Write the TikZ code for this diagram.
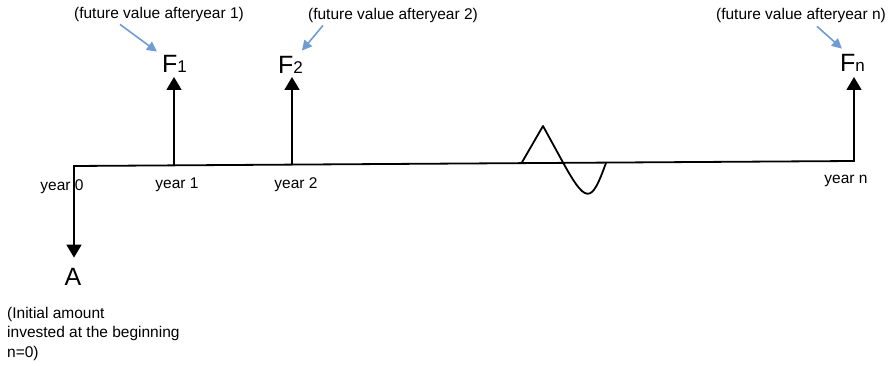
\documentclass[tikz,border=0pt]{standalone}
\usepackage{fontspec}
\setmainfont{Liberation Sans}
\usetikzlibrary{arrows.meta,calc}
\definecolor{noteblue}{RGB}{112,156,212}
\tikzset{
  smalltxt/.style={font=\fontsize{15.5}{19.5}\selectfont, inner sep=0pt},
  bigtxt/.style={font=\fontsize{25}{28}\selectfont, inner sep=0pt, anchor=base},
  blkline/.style={line width=1.8pt, black},
  blkarrow/.style={blkline, -{Triangle[width=15pt,length=13pt]}},
  bothblk/.style={blkline, line join=miter, {Triangle[width=15pt,length=13pt]}-{Triangle[width=15pt,length=13pt]}},
  notearrow/.style={line width=1.6pt, noteblue, -{Triangle[width=10pt,length=10pt]}},
}
\newcommand{\subsz}[1]{{\fontsize{17}{20}\selectfont #1}}
\begin{document}
\begin{tikzpicture}[x=1pt,y=-1pt]
\useasboundingbox (0,0) rectangle (889,366);
% timeline points
\coordinate (t0) at (74,166);
\coordinate (t1) at (174,165.4);
\coordinate (t2) at (292,164.6);
\coordinate (tn) at (854,161);
% value nodes
\node[bigtxt] (F1) at (174.5,73) {F\subsz{1}};
\node[bigtxt] (F2) at (290.5,74) {F\subsz{2}};
\node[bigtxt] (Fn) at (852.5,72) {F\subsz{n}};
\node[bigtxt] (A) at (73,285) {A};
% notes
\node[smalltxt] (n1) at (159,14) {(future value afteryear 1)};
\node[smalltxt] (n2) at (393,15) {(future value afteryear 2)};
\node[smalltxt] (nn) at (801,15) {(future value afteryear n)};
\node[smalltxt, align=left, anchor=north west] (init) at (7,307) {(Initial amount\\invested at the beginning\\n=0)};
% year labels
\node[smalltxt] (y0) at (62,187) {year 0};
\node[smalltxt] (y1) at (177,185) {year 1};
\node[smalltxt] (y2) at (296,185) {year 2};
\node[smalltxt] (yn) at (846,181) {year n};
% timeline with the year 0 and year n arrows as one path
\draw[bothblk] ($(t0 |- A.north)+(0,-10)$) -- (t0) -- (tn) -- ($(tn |- Fn.base)+(0,5)$);
% wave
\draw[blkline, line join=round] (522,162.3) -- (543,126) -- (560,157) .. controls (586,205) and (591,205) .. (606,162.8);
% arrows
\draw[blkarrow] (t1) -- ($(t1 |- F1.base)+(0,4)$);
\draw[blkarrow] (t2) -- ($(t2 |- F2.base)+(0,3)$);
% note arrows
\draw[notearrow] ($(n1.south)+(-39,3)$) -- ($(F1.north west)+(-5,-4)$);
\draw[notearrow] ($(n2.south)+(-70,3)$) -- ($(F2.north west)+(24,-6)$);
\draw[notearrow] ($(nn.south)+(16,4)$) -- ($(Fn.north west)+(2,-6)$);
\end{tikzpicture}
\end{document}
